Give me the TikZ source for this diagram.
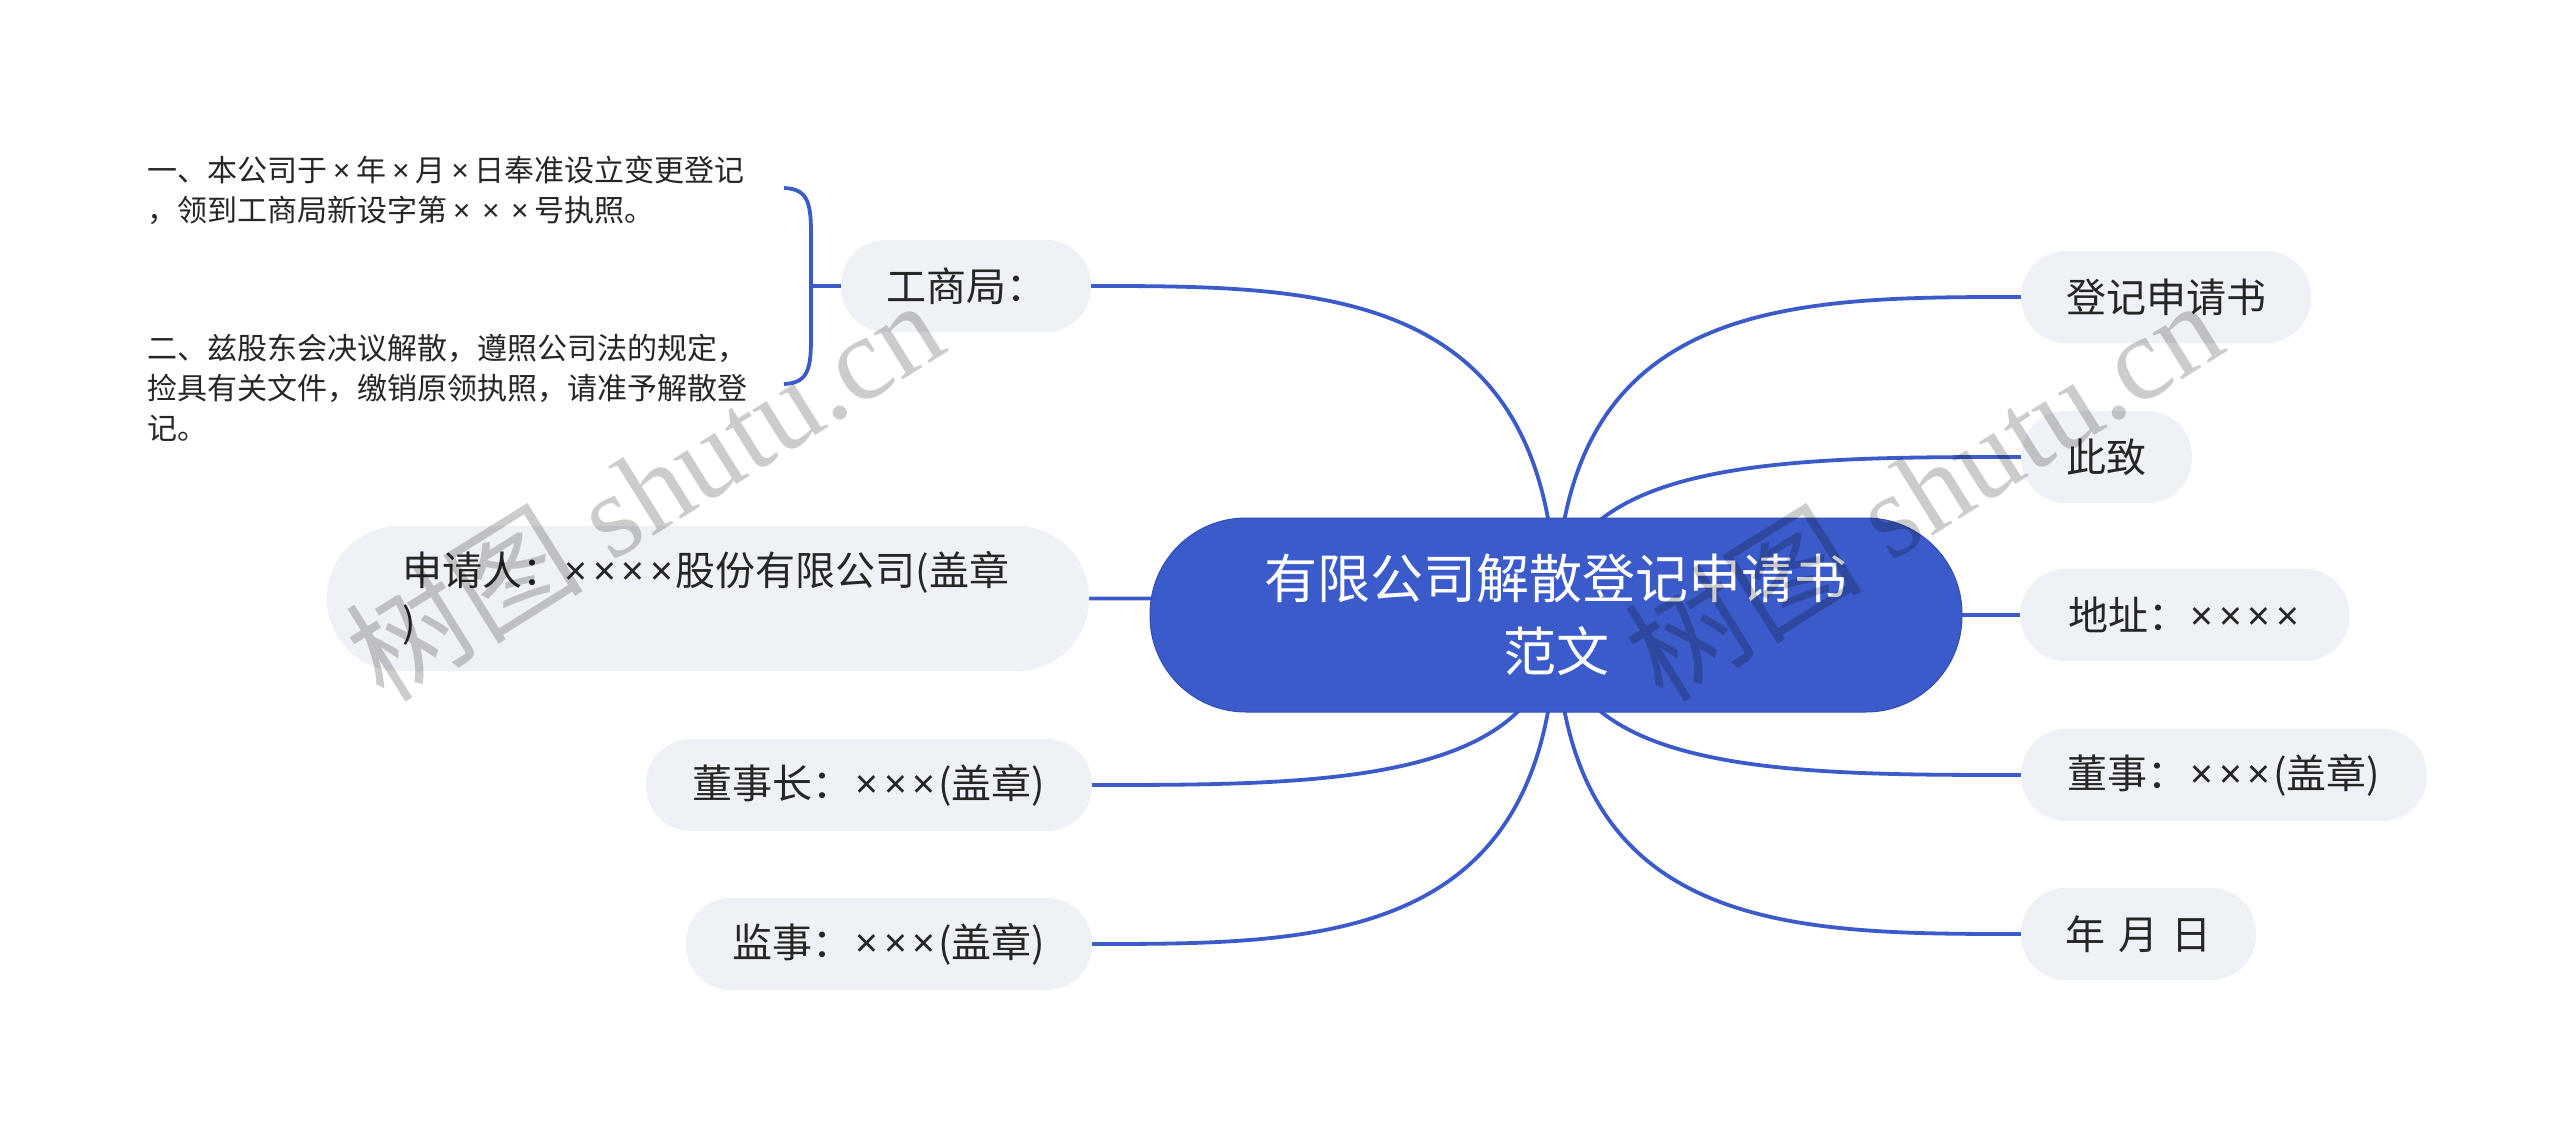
\documentclass[tikz,border=0pt]{standalone}
\usepackage{fontspec}
\setmainfont{Noto Sans CJK SC}
\newfontfamily\latinsans{Noto Sans}
\newfontfamily\wmserif{Liberation Serif}
\newfontfamily\wmcjk{Noto Sans CJK SC}
\usetikzlibrary{backgrounds,calc}
\definecolor{mainblue}{HTML}{3A5BC9}
\definecolor{rootedge}{HTML}{2F4DB2}
\definecolor{nodegray}{HTML}{EEF1F5}
\definecolor{txtcol}{HTML}{262626}
\newcommand\tms{{\latinsans\hspace{0.07em}×\hspace{0.07em}}}
\newcommand\tml{{\latinsans\hspace{0.2em}×\hspace{0.2em}}}
\newcommand\branchto[1]{\draw[link] (root.center) .. controls (root.center |- #1) and ($(root.center |- #1)!.5!(#1)$) .. (#1);}
\begin{document}
\begin{tikzpicture}[x=1pt,y=-1pt,
  topic/.style={fill=nodegray, rounded corners=45pt, text=txtcol, inner sep=0pt,
    font=\fontsize{40}{52}\selectfont, minimum height=92pt, align=center},
  leaf/.style={text=txtcol, inner sep=0pt, font=\fontsize{30}{40}\selectfont, align=left, anchor=west},
  rootbox/.style={fill=mainblue, draw=rootedge, line width=1pt, rounded corners=96pt, text=white,
    inner sep=0pt, minimum width=812pt, minimum height=194pt, align=center,
    font=\fontsize{53}{73}\selectfont},
  link/.style={draw=mainblue, line width=3.8pt},
  wm/.style={text=black, text opacity=0.2, inner sep=0pt, font=\fontsize{119}{119}\wmserif, rotate=32}]
\useasboundingbox (0,0) rectangle (2560,1123);

% central topic
\node[rootbox] (root) at (1556,615) {有限公司解散登记申请书\\范文};

% right topics
\node[topic, minimum width=290pt] (r1) at (2166,297) {登记申请书};
\node[topic, minimum width=171pt] (r2) at (2106.5,457) {此致};
\node[topic, minimum width=329pt] (r3) at (2185,615) {地址：\tms\tms\tms\tms};
\node[topic, minimum width=406pt] (r4) at (2224,775) {董事：\tms\tms\tms(盖章)};
\node[topic, minimum width=235pt] (r5) at (2138.5,934) {年\hspace{13pt}月\hspace{13pt}日};

% left topics
\node[topic, minimum width=250pt] (l1) at (966,286) {工商局：};
\node[topic, rounded corners=72pt, minimum height=145pt, text width=612pt, inner xsep=75pt, align=left] (l2) at (708,598.5)
  {申请人：\tms\tms\tms\tms 股份有限公司(盖章\\)};
\node[topic, minimum width=446pt] (l3) at (869,785) {董事长：\tms\tms\tms(盖章)};
\node[topic, minimum width=406pt] (l4) at (889,944) {监事：\tms\tms\tms(盖章)};

% leaves of 工商局
\node[leaf] (a1) at (147,190.5) {一、本公司于\tml 年\tml 月\tml 日奉准设立变更登记\\，领到工商局新设字第\tml\tml\tml 号执照。};
\node[leaf] (a2) at (147,388) {二、兹股东会决议解散，遵照公司法的规定，\\捡具有关文件，缴销原领执照，请准予解散登\\记。};

% brace
\coordinate (bt) at (784,188);
\coordinate (bb) at (784,384);
\coordinate (bm) at (811,286);
\draw[link] (bt) .. controls (806,189) and (811,200) .. (811,232) -- (811,340) .. controls (811,372) and (806,383) .. (bb);
\draw[link] (bm) -- (l1.west);

% connectors (under the nodes)
\begin{pgfonlayer}{background}
\fill[white] (0,0) rectangle (2560,1123);
\branchto{r1.west}
\branchto{r2.west}
\branchto{r3.west}
\branchto{r4.west}
\branchto{r5.west}
\branchto{l1.east}
\branchto{l2.east}
\branchto{l3.east}
\branchto{l4.east}
\end{pgfonlayer}

% watermarks
\node[wm] (wm1) at (644,489) {{\wmcjk 树图} shutu.cn};
\node[wm] (wm2) at (1923,489) {{\wmcjk 树图} shutu.cn};
\end{tikzpicture}
\end{document}
